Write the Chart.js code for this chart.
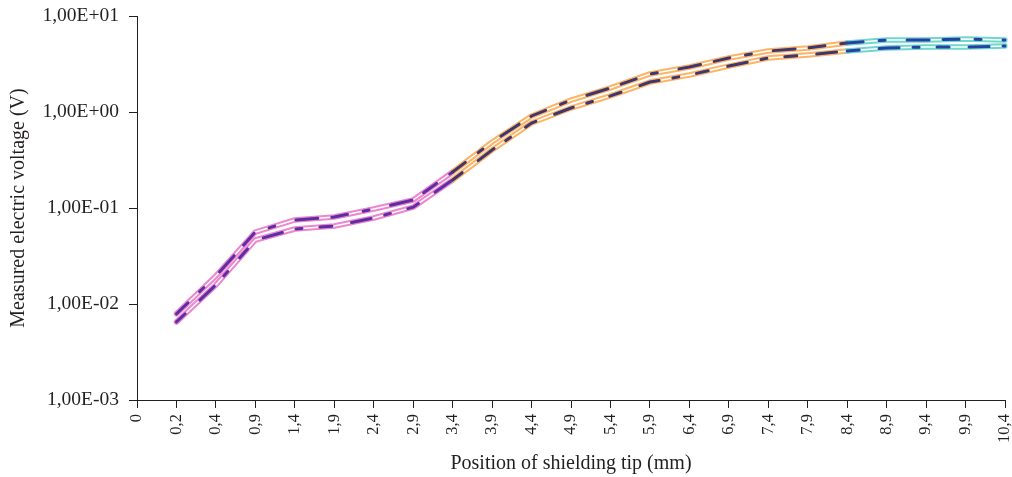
<!DOCTYPE html>
<html>
<head>
<meta charset="utf-8">
<script src="https://cdn.jsdelivr.net/npm/chart.js@4/dist/chart.umd.min.js"></script>
<style>
  html, body { margin: 0; padding: 0; background: #ffffff; }
  #wrap { width: 1012px; height: 477px; }
</style>
</head>
<body>
<div id="wrap"><canvas id="c" width="1012" height="477"></canvas></div>
<script>
// ---- data ----
const positions = ['0','0,2','0,4','0,9','1,4','1,9','2,4','2,9','3,4','3,9','4,4','4,9','5,4','5,9','6,4','6,9','7,4','7,9','8,4','8,9','9,4','9,9','10,4'];
const upperVoltage = [null, 0.0079, 0.0196, 0.0562, 0.0750, 0.0806, 0.0976, 0.121, 0.237, 0.487, 0.909, 1.33, 1.78, 2.49, 2.94, 3.65, 4.32, 4.64, 5.24, 5.62, 5.62, 5.76, 5.62];
const lowerVoltage = [null, 0.0065, 0.0158, 0.0464, 0.0604, 0.0649, 0.0787, 0.102, 0.196, 0.402, 0.768, 1.10, 1.47, 2.05, 2.43, 3.01, 3.65, 3.93, 4.32, 4.64, 4.75, 4.75, 4.87];
const yTickValues = [0.001, 0.01, 0.1, 1, 10];
const yTickLabels = ['1,00E-03', '1,00E-02', '1,00E-01', '1,00E+00', '1,00E+01'];
const zoneBreaks = [8, 18]; // category index where colour zones change

// ---- styles ----
const bandColors = ['#ec86cf', '#fbb468', '#6fd6cf'];
const dashColors = ['#5b2fa3', '#3f3570', '#2741a3'];
const textColor = '#231f20';
const FONT = '"Liberation Serif", "Times New Roman", serif';

function zone(i) { return i < zoneBreaks[0] ? 0 : (i < zoneBreaks[1] ? 1 : 2); }

function band(data, order) {
  return {
    data: data, order: order, borderWidth: 5.5, pointRadius: 0, tension: 0,
    borderColor: bandColors[0], borderCapStyle: 'round', borderJoinStyle: 'round',
    segment: { borderColor: ctx => bandColors[zone(ctx.p0DataIndex)] }
  };
}
function centre(data, order) {
  return { data: data, order: order, borderWidth: 1.4, pointRadius: 0, tension: 0,
    borderColor: '#ffffff', borderJoinStyle: 'round' };
}
function dashes(data, order, dash) {
  return {
    data: data, order: order, borderWidth: 3, pointRadius: 0, tension: 0,
    borderColor: dashColors[0], borderDash: dash, borderCapStyle: 'round',
    segment: { borderColor: ctx => dashColors[zone(ctx.p0DataIndex)] }
  };
}

new Chart(document.getElementById('c'), {
  type: 'line',
  data: {
    labels: positions,
    datasets: [
      band(upperVoltage, 6), band(lowerVoltage, 5),
      centre(upperVoltage, 4), centre(lowerVoltage, 3),
      dashes(upperVoltage, 2, [16, 16, 6, 22, 22, 14]), dashes(lowerVoltage, 1, [12, 20, 20, 14, 6, 18])
    ]
  },
  options: {
    responsive: false,
    animation: false,
    devicePixelRatio: 1,
    layout: { padding: { left: 0, right: 7, top: 16, bottom: 0 } },
    plugins: { legend: { display: false }, tooltip: { enabled: false } },
    scales: {
      x: {
        type: 'category',
        offset: false,
        grid: { display: true, drawOnChartArea: false, drawTicks: true, tickLength: 8, color: textColor, offset: false },
        border: { display: true, color: textColor, width: 1 },
        ticks: { autoSkip: false, minRotation: 90, maxRotation: 90, padding: 6, color: textColor,
          font: { family: FONT, size: 16.5 } },
        title: { display: true, text: 'Position of shielding tip (mm)', color: textColor,
          font: { family: FONT, size: 20 }, padding: { top: 0, bottom: 1 } },
        afterFit: s => { s.height = 77; s.paddingLeft = 0; s.paddingRight = 0; }
      },
      y: {
        type: 'logarithmic',
        min: 0.001, max: 10,
        grid: { display: true, drawOnChartArea: false, drawTicks: true, tickLength: 8, color: textColor },
        border: { display: true, color: textColor, width: 1 },
        afterBuildTicks: s => { s.ticks = yTickValues.map(v => ({ value: v })); },
        ticks: { padding: 10, color: textColor, font: { family: FONT, size: 19.5 },
          callback: v => { const i = yTickValues.findIndex(t => Math.abs(Math.log10(t) - Math.log10(v)) < 1e-6); return i >= 0 ? yTickLabels[i] : ''; } },
        title: { display: true, text: 'Measured electric voltage (V)', color: textColor,
          font: { family: FONT, size: 20 }, padding: { top: 7, bottom: 0 } },
        afterFit: s => { s.width = 137; s.paddingTop = 0; s.paddingBottom = 0; }
      }
    }
  }
});
</script>
</body>
</html>
